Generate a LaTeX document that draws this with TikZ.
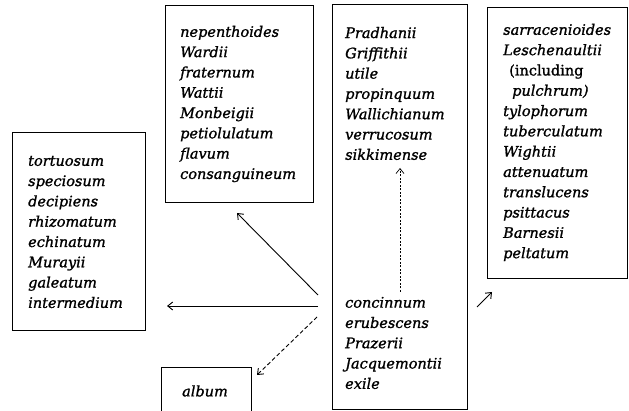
\documentclass[tikz,border=0pt]{standalone}
\usepackage{fontspec}
\setmainfont[ItalicFeatures={FakeBold=1.2},UprightFeatures={FakeBold=1.2}]{DejaVu Serif}
\usetikzlibrary{arrows.meta}
\tikzset{
  box/.style={draw, line width=1pt, anchor=north west, inner sep=0pt, outer sep=0pt},
  txt/.style={anchor=west, align=left, inner sep=0pt, font=\fontsize{14.5}{20.3}\selectfont\itshape},
  arr/.style={line width=0.9pt, -{Straight Barb[length=5pt,width=8pt]}},
}
\begin{document}
\begin{tikzpicture}[x=1pt,y=-1pt]
\useasboundingbox (0,0) rectangle (629,411);
% boxes
\node[box, minimum width=133pt, minimum height=198pt] (Lbox) at (12,133) {};
\node[box, minimum width=148pt, minimum height=197pt] (Tbox) at (165,6) {};
\node[box, minimum width=135pt, minimum height=404pt] (Mbox) at (332,5) {};
\node[box, minimum width=140pt, minimum height=271pt] (Rbox) at (487,8) {};
\draw[line width=1pt] (161,412) -- (161,368) -- (251,368) -- (251,412);
% texts
\node[txt] (Ltxt) at (28,232) {tortuosum\\speciosum\\decipiens\\rhizomatum\\echinatum\\Murayii\\galeatum\\intermedium};
\node[txt] (Ttxt) at (180,104) {nepenthoides\\Wardii\\fraternum\\Wattii\\Monbeigii\\petiolulatum\\flavum\\consanguineum};
\node[txt] (Mtop) at (345,93.5) {Pradhanii\\Griffithii\\utile\\propinquum\\Wallichianum\\verrucosum\\sikkimense};
\node[txt] (Mbot) at (345,343) {concinnum\\erubescens\\Prazerii\\Jacquemontii\\exile};
\node[txt] (Rtxt) at (503,142.5) {sarracenioides\\Leschenaultii\\\hspace*{6pt}\upshape(including\\\hspace*{9pt}pulchrum)\\tylophorum\\tuberculatum\\Wightii\\attenuatum\\translucens\\psittacus\\Barnesii\\peltatum};
\node[txt, anchor=center] (album) at (205,391) {album};
% connectors
\coordinate (s1) at (318,295);
\coordinate (s2) at (318,306);
\coordinate (s3) at (317,317);
\coordinate (e1) at (237,213);
\coordinate (e2) at (167,306);
\coordinate (e3) at (257,375);
\coordinate (d1) at (400,292);
\coordinate (d2) at (400,168);
\coordinate (r1) at (477,307);
\coordinate (r2) at (492,292);
\draw[arr] (s1) -- (e1);
\draw[arr] (s2) -- (e2);
\draw[arr, dash pattern=on 4pt off 2.5pt] (s3) -- (e3);
\draw[arr, line width=0.7pt, dash pattern=on 2pt off 1.5pt] (d1) -- (d2);
\draw[arr] (r1) -- (r2);
\end{tikzpicture}
\end{document}
